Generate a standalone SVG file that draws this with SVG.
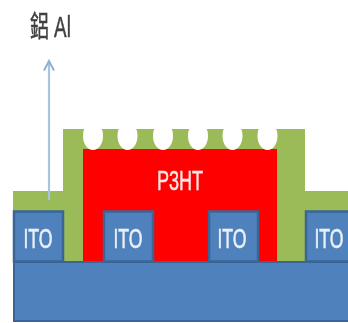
<svg xmlns="http://www.w3.org/2000/svg" width="348" height="323" viewBox="0 0 348 323">
  <defs>
    <filter id="soft" x="-5%" y="-5%" width="110%" height="110%"><feGaussianBlur stdDeviation="0.6"/></filter>
    <marker id="arrow" markerUnits="userSpaceOnUse" markerWidth="14" markerHeight="14" refX="11.500" refY="7" orient="auto" viewBox="0 0 14 14">
      <path d="M2 2 L11.500 7 L2 12" fill="none" stroke="#8FB0D8" stroke-width="2"/>
    </marker>
  </defs>
  <style>
    .ito { fill: #4F81BD; stroke: #3A6597; stroke-width: 2.500; }
    .ito-text { font-family: "Liberation Sans", Arial, sans-serif; font-size: 28px; fill: #E9F0F8; stroke: #E9F0F8; stroke-width: 0.600; text-anchor: middle; }
    .green { fill: #9BBB59; }
    .hole { fill: #FFFFFF; }
  </style>
  <rect width="348" height="323" fill="#FFFFFF"/>
  <g filter="url(#soft)">
    <g id="organic-layer">
      <path class="green" d="M13 191 H63 V129 H305 V191 H348 V212 H13 Z"/>
      <rect class="green" x="63" y="205" width="20" height="56"/>
      <rect class="green" x="277" y="205" width="29" height="56"/>
    </g>
    <g id="p3ht">
      <rect x="83" y="149" width="194" height="112" fill="#FF0000"/>
      <ellipse class="hole" cx="93" cy="136" rx="10" ry="14"/>
      <ellipse class="hole" cx="127.500" cy="136" rx="10" ry="14"/>
      <ellipse class="hole" cx="163" cy="136" rx="10" ry="14"/>
      <ellipse class="hole" cx="198" cy="136" rx="10" ry="14"/>
      <ellipse class="hole" cx="232.500" cy="136" rx="10" ry="14"/>
      <ellipse class="hole" cx="267.500" cy="136" rx="10" ry="14"/>
      <rect class="hole" x="80" y="118" width="200" height="11"/>
      <text transform="translate(180 190) scale(.67 1)" font-family="'Liberation Sans', Arial, sans-serif" font-size="27" fill="#FFE5E5" stroke="#FFE5E5" stroke-width="0.500" text-anchor="middle">P3HT</text>
    </g>
    <g id="substrate"><rect x="14" y="262" width="336" height="59" fill="#4F81BD" stroke="#3A6597" stroke-width="2"/></g>
    <g id="ito-1"><rect class="ito" x="14" y="211.500" width="49" height="50"/><text class="ito-text" transform="translate(38 248) scale(.63 1)">ITO</text></g>
    <g id="ito-2"><rect class="ito" x="104" y="211.500" width="49" height="50"/><text class="ito-text" transform="translate(128 248) scale(.63 1)">ITO</text></g>
    <g id="ito-3"><rect class="ito" x="209" y="211.500" width="49" height="50"/><text class="ito-text" transform="translate(232 248) scale(.63 1)">ITO</text></g>
    <g id="ito-4"><rect class="ito" x="306" y="211.500" width="49" height="50"/><text class="ito-text" transform="translate(329 248) scale(.63 1)">ITO</text></g>
    <g id="connectors"><line x1="49" y1="200" x2="49" y2="61" stroke="#A9C3E2" stroke-width="2.200" marker-end="url(#arrow)"/></g>
    <g id="label-al"><text transform="translate(30 37) scale(.65 1)" font-family="'Liberation Sans', 'Noto Sans CJK TC', sans-serif" font-size="29" fill="#404040" stroke="#404040" stroke-width="0.500">鋁 Al</text></g>
  </g>
</svg>
